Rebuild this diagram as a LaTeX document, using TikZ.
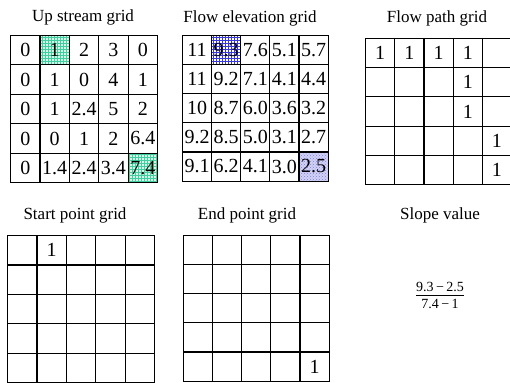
\documentclass[tikz,border=0pt]{standalone}
\usepackage{fontspec}
\setmainfont{Liberation Serif}
\usetikzlibrary{patterns}
\definecolor{tealgrid}{HTML}{40D0A0}
\definecolor{tealbg}{HTML}{D4F5EA}
\definecolor{bluegrid}{HTML}{3838E0}
\definecolor{lavdots}{HTML}{8080E0}
\definecolor{lavbg}{HTML}{D2D2F6}
\tikzset{
  cellbox/.style={draw=black, line width=1.1pt, minimum width=#1pt, minimum height=#1pt,
    inner sep=0pt, anchor=north west, font=\fontsize{20}{20}\selectfont},
  gridtitle/.style={font=\fontsize{17}{17}\selectfont, inner sep=0pt},
  tealcell/.style={preaction={fill=tealbg}, pattern=grid, pattern color=tealgrid},
  hl/up-0-1/.style={tealcell},
  hl/up-4-4/.style={tealcell},
  hl/elev-0-1/.style={pattern=grid, pattern color=bluegrid},
  hl/elev-4-4/.style={preaction={fill=lavbg}, pattern=crosshatch dots, pattern color=lavdots},
}
\newcommand\gridfive[5]{%
  \foreach \rowdata [count=\r from 0] in {#5} {
    \foreach \v [count=\c from 0] in \rowdata {
      \node[cellbox=#4, hl/#1-\r-\c/.try] (#1-\r-\c) at ({#2+\c*#4},{#3+\r*#4}) {\v};
    }
  }%
}
\begin{document}
\begin{tikzpicture}[x=1pt,y=-1pt]
\useasboundingbox (0,0) rectangle (510,382);
% titles
\node[gridtitle] (t-up) at (83,17) {Up stream grid};
\node[gridtitle] (t-elev) at (250,18) {Flow elevation grid};
\node[gridtitle] (t-path) at (437,18) {Flow path grid};
\node[gridtitle] (t-start) at (75,215) {Start point grid};
\node[gridtitle] (t-end) at (247,215) {End point grid};
\node[gridtitle] (t-slope) at (440,215) {Slope value};
% grids
\gridfive{up}{10}{35}{29.4}{{0,1,2,3,0},{0,1,0,4,1},{0,1,2.4,5,2},{0,0,1,2,6.4},{0,1.4,2.4,3.4,7.4}}
\gridfive{elev}{182}{35}{29.1}{{11,9.3,7.6,5.1,5.7},{11,9.2,7.1,4.1,4.4},{10,8.7,6.0,3.6,3.2},{9.2,8.5,5.0,3.1,2.7},{9.1,6.2,4.1,3.0,2.5}}
\gridfive{path}{365}{38}{29.2}{{1,1,1,1,{}},{{},{},{},1,{}},{{},{},{},1,{}},{{},{},{},{},1},{{},{},{},{},1}}
\gridfive{start}{7}{235}{29.4}{{{},1,{},{},{}},{{},{},{},{},{}},{{},{},{},{},{}},{{},{},{},{},{}},{{},{},{},{},{}}}
\gridfive{end}{183}{235}{29.1}{{{},{},{},{},{}},{{},{},{},{},{}},{{},{},{},{},{}},{{},{},{},{},{}},{{},{},{},{},1}}
% slope fraction
\node[font=\fontsize{14}{16}\selectfont, inner sep=0pt] (slope) at (440,297)
  {\begin{tabular}{@{}c@{}}9.3\,−\,2.5\\[-1pt]\hline\rule{0pt}{13pt}7.4\,−\,1\end{tabular}};
\end{tikzpicture}
\end{document}
